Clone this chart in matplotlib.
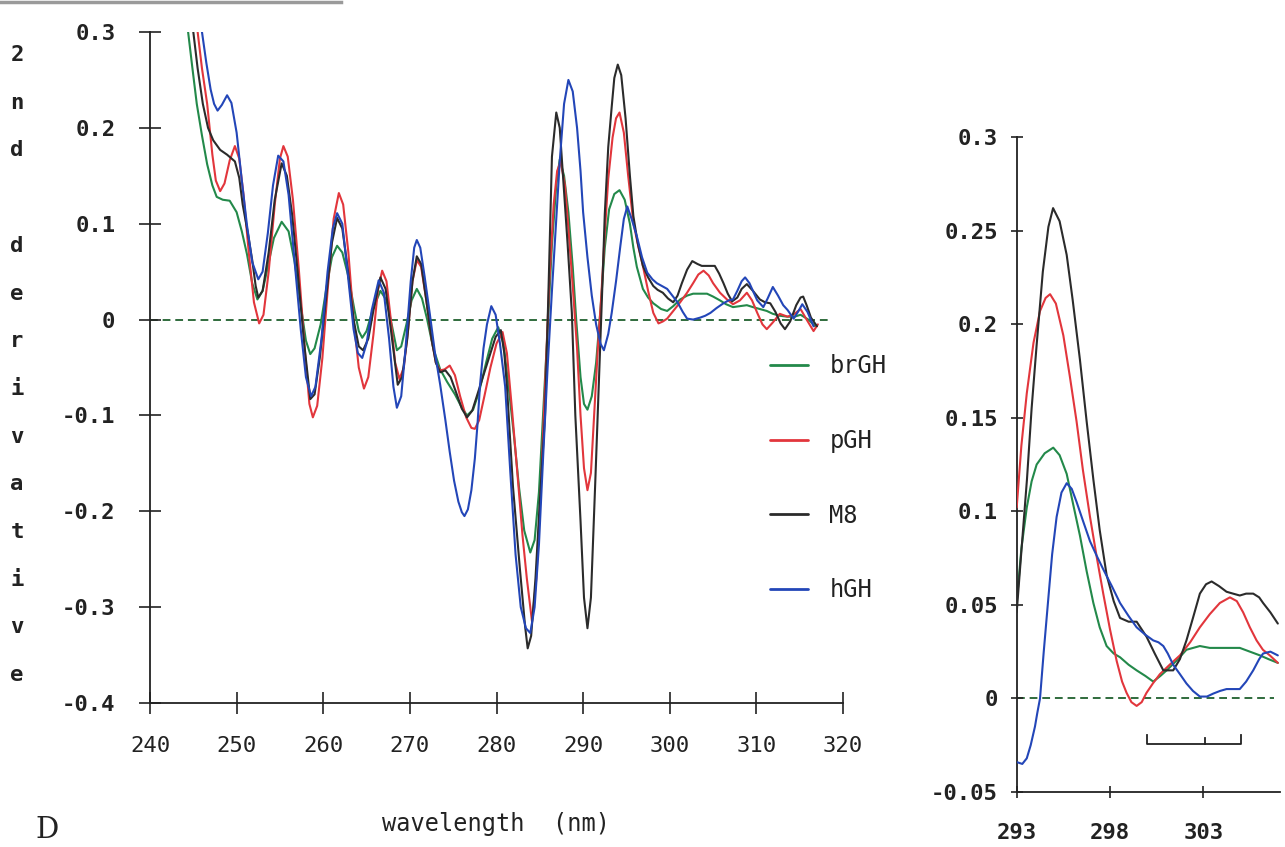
import matplotlib
matplotlib.use("Agg")
import matplotlib.pyplot as plt
from matplotlib.lines import Line2D

# ── data (2nd derivative spectra) ──
labels = ["brGH", "pGH", "M8", "hGH"]
colors = ["#23894a", "#e2363c", "#2b2b2b", "#2346b8"]

wl_brgh = [244.4, 244.9, 245.4, 246.0, 246.6, 247.2, 247.7, 248.4, 249.2, 250.0, 250.6, 251.2,
           251.8, 252.4, 253.0, 253.6, 254.3, 255.2, 256.0, 256.7, 257.4, 258.0, 258.5, 259.0,
           259.7, 260.4, 261.0, 261.6, 262.2, 262.9, 263.6, 264.1, 264.5, 265.0, 265.7, 266.6,
           267.3, 267.9, 268.5, 269.0, 269.6, 270.2, 270.8, 271.4, 272.0, 272.7, 273.5, 274.3,
           275.2, 276.0, 276.6, 277.3, 278.0, 278.8, 279.5, 280.2, 280.8, 281.4, 282.0, 282.6,
           283.2, 283.9, 284.4, 284.9, 285.4, 285.9, 286.4, 286.9, 287.3, 287.8, 288.3, 288.8,
           289.2, 289.7, 290.1, 290.5, 291.0, 291.5, 292.0, 292.5, 293.0, 293.6, 294.2, 294.8,
           295.4, 295.8, 296.2, 296.9, 297.5, 298.1, 299.0, 299.7, 300.4, 301.2, 302.0, 302.7,
           303.5, 304.3, 305.0, 305.8, 306.5, 307.3, 308.1, 308.9, 309.6, 310.4, 311.2, 311.9,
           312.7, 313.6, 314.4, 315.1, 316.0, 316.8]
d2_brgh = [0.300, 0.262, 0.225, 0.192, 0.162, 0.140, 0.128, 0.125, 0.124, 0.112, 0.092, 0.068,
           0.038, 0.021, 0.030, 0.055, 0.085, 0.102, 0.092, 0.060, 0.015, -0.022, -0.036, -0.030,
           -0.005, 0.035, 0.065, 0.077, 0.070, 0.045, 0.010, -0.012, -0.019, -0.012, 0.010, 0.030,
           0.020, -0.005, -0.032, -0.028, -0.005, 0.020, 0.032, 0.022, 0.000, -0.030, -0.052, -0.065,
           -0.078, -0.092, -0.100, -0.094, -0.075, -0.045, -0.020, -0.008, -0.025, -0.070, -0.120, -0.175,
           -0.220, -0.243, -0.230, -0.180, -0.095, -0.010, 0.078, 0.140, 0.167, 0.150, 0.112, 0.055,
           0.000, -0.060, -0.088, -0.094, -0.080, -0.045, 0.010, 0.075, 0.115, 0.131, 0.135, 0.125,
           0.100, 0.075, 0.055, 0.032, 0.023, 0.017, 0.011, 0.009, 0.014, 0.021, 0.025, 0.027,
           0.027, 0.027, 0.024, 0.020, 0.016, 0.013, 0.014, 0.015, 0.013, 0.011, 0.009, 0.006,
           0.004, 0.003, 0.003, 0.005, 0.000, -0.007]

wl_pgh = [245.5, 246.0, 246.6, 247.2, 247.6, 248.1, 248.6, 249.2, 249.8, 250.3, 250.8, 251.4,
          252.0, 252.6, 253.1, 253.7, 254.4, 255.0, 255.4, 255.9, 256.5, 257.2, 257.9, 258.4,
          258.8, 259.3, 259.9, 260.5, 261.2, 261.8, 262.3, 262.9, 263.5, 264.1, 264.7, 265.2,
          265.8, 266.3, 266.8, 267.3, 267.8, 268.3, 268.8, 269.3, 269.8, 270.3, 270.8, 271.3,
          271.9, 272.5, 273.0, 273.5, 274.0, 274.6, 275.2, 275.8, 276.5, 277.1, 277.5, 278.0,
          278.6, 279.3, 280.0, 280.7, 281.2, 281.8, 282.5, 283.0, 283.5, 284.1, 284.6, 285.1,
          285.6, 286.1, 286.6, 287.0, 287.4, 287.9, 288.3, 288.8, 289.3, 289.7, 290.1, 290.5,
          290.9, 291.3, 291.7, 292.1, 292.5, 292.9, 293.4, 293.8, 294.2, 294.7, 295.2, 295.8,
          296.4, 296.9, 297.5, 298.1, 298.7, 299.2, 299.7, 300.5, 301.2, 302.0, 302.7, 303.3,
          303.9, 304.5, 305.0, 305.8, 306.6, 307.3, 308.1, 308.9, 309.5, 310.1, 310.7, 311.2,
          311.9, 312.7, 313.6, 314.4, 315.1, 315.8, 316.6, 317.1]
d2_pgh = [0.300, 0.262, 0.225, 0.172, 0.145, 0.134, 0.142, 0.166, 0.181, 0.168, 0.130, 0.070,
          0.018, -0.004, 0.005, 0.050, 0.120, 0.168, 0.181, 0.170, 0.125, 0.050, -0.035, -0.088,
          -0.102, -0.090, -0.040, 0.030, 0.105, 0.132, 0.120, 0.070, 0.000, -0.050, -0.072, -0.060,
          -0.015, 0.030, 0.051, 0.040, 0.000, -0.045, -0.062, -0.050, -0.010, 0.040, 0.062, 0.055,
          0.020, -0.020, -0.045, -0.053, -0.052, -0.048, -0.058, -0.080, -0.102, -0.113, -0.114, -0.105,
          -0.080, -0.050, -0.025, -0.013, -0.035, -0.095, -0.170, -0.225, -0.270, -0.315, -0.270, -0.180,
          -0.070, 0.040, 0.120, 0.155, 0.165, 0.140, 0.095, 0.035, -0.030, -0.100, -0.155, -0.178,
          -0.160, -0.095, -0.030, 0.025, 0.090, 0.147, 0.190, 0.210, 0.216, 0.195, 0.150, 0.101,
          0.075, 0.056, 0.030, 0.007, -0.004, -0.002, 0.001, 0.010, 0.018, 0.028, 0.038, 0.047,
          0.051, 0.046, 0.038, 0.028, 0.021, 0.016, 0.020, 0.028, 0.020, 0.007, -0.005, -0.010,
          -0.003, 0.006, 0.003, 0.006, 0.011, 0.000, -0.012, -0.005]

wl_m8 = [245.0, 245.5, 246.1, 246.7, 247.3, 248.1, 248.9, 249.8, 250.3, 250.7, 251.3, 251.8,
         252.2, 252.5, 253.0, 253.7, 254.4, 255.2, 255.8, 256.4, 257.1, 257.8, 258.5, 259.0,
         259.6, 260.3, 261.0, 261.6, 262.2, 262.8, 263.5, 264.1, 264.6, 265.2, 265.8, 266.6,
         267.2, 267.8, 268.6, 269.1, 269.7, 270.3, 270.8, 271.3, 271.9, 272.5, 273.0, 273.5,
         274.1, 274.7, 275.3, 276.0, 276.6, 277.2, 277.9, 278.6, 279.3, 279.9, 280.5, 280.9,
         281.2, 281.9, 282.7, 283.3, 283.6, 284.0, 284.5, 285.0, 285.6, 286.0, 286.4, 286.9,
         287.3, 287.7, 288.2, 288.7, 289.1, 289.7, 290.1, 290.5, 290.9, 291.4, 291.8, 292.2,
         292.5, 292.9, 293.3, 293.6, 294.0, 294.4, 294.9, 295.4, 295.8, 296.3, 296.9, 297.5,
         298.1, 298.6, 299.2, 299.8, 300.4, 300.9, 301.4, 302.0, 302.6, 303.2, 303.7, 304.5,
         305.2, 305.7, 306.2, 306.7, 307.2, 307.8, 308.3, 308.9, 309.6, 310.4, 311.0, 311.6,
         312.2, 312.8, 313.3, 313.9, 314.6, 315.1, 315.4, 315.8, 316.3, 317.0]
d2_m8 = [0.300, 0.262, 0.225, 0.200, 0.187, 0.177, 0.172, 0.165, 0.148, 0.120, 0.090, 0.062,
         0.035, 0.023, 0.030, 0.070, 0.125, 0.163, 0.150, 0.110, 0.045, -0.025, -0.083, -0.078,
         -0.040, 0.020, 0.080, 0.106, 0.095, 0.055, 0.000, -0.028, -0.032, -0.020, 0.010, 0.044,
         0.032, -0.010, -0.068, -0.060, -0.020, 0.040, 0.066, 0.058, 0.020, -0.020, -0.045, -0.055,
         -0.053, -0.060, -0.075, -0.093, -0.102, -0.095, -0.075, -0.055, -0.035, -0.018, -0.011, -0.035,
         -0.069, -0.174, -0.260, -0.320, -0.343, -0.330, -0.270, -0.190, -0.100, 0.030, 0.170, 0.216,
         0.200, 0.147, 0.080, 0.007, -0.100, -0.210, -0.290, -0.322, -0.290, -0.170, -0.070, 0.030,
         0.110, 0.180, 0.222, 0.252, 0.266, 0.255, 0.210, 0.150, 0.108, 0.080, 0.056, 0.044,
         0.035, 0.031, 0.028, 0.022, 0.018, 0.025, 0.038, 0.052, 0.061, 0.058, 0.056, 0.056,
         0.056, 0.048, 0.038, 0.027, 0.019, 0.023, 0.032, 0.037, 0.030, 0.021, 0.018, 0.017,
         0.008, -0.004, -0.010, -0.002, 0.015, 0.023, 0.024, 0.015, 0.002, -0.007]

wl_hgh = [246.0, 246.5, 247.0, 247.4, 247.8, 248.3, 248.9, 249.4, 250.0, 250.6, 251.2, 251.8,
          252.5, 253.0, 253.6, 254.2, 254.8, 255.4, 256.0, 256.7, 257.4, 258.0, 258.6, 259.1,
          259.8, 260.5, 261.1, 261.6, 262.2, 262.8, 263.5, 264.0, 264.5, 265.0, 265.6, 266.4,
          267.0, 267.6, 268.1, 268.5, 269.0, 269.5, 270.1, 270.5, 270.8, 271.2, 271.7, 272.3,
          272.9, 273.5, 274.1, 274.6, 275.1, 275.6, 276.0, 276.3, 276.7, 277.1, 277.5, 277.8,
          278.1, 278.5, 278.9, 279.4, 279.9, 280.4, 281.0, 281.6, 282.2, 282.8, 283.4, 283.9,
          284.4, 284.9, 285.4, 285.9, 286.4, 286.8, 287.3, 287.8, 288.3, 288.8, 289.3, 289.7,
          290.0, 290.5, 291.0, 291.5, 292.0, 292.4, 292.9, 293.3, 293.8, 294.3, 294.7, 295.1,
          295.6, 296.2, 296.8, 297.4, 298.0, 298.5, 299.1, 299.7, 300.3, 300.9, 301.5, 302.0,
          302.7, 303.5, 304.1, 304.7, 305.4, 306.2, 306.8, 307.3, 307.8, 308.3, 308.7, 309.2,
          309.7, 310.1, 310.8, 311.3, 311.9, 312.5, 313.1, 313.6, 314.3, 314.8, 315.3, 315.9,
          316.6]
d2_hgh = [0.300, 0.268, 0.240, 0.225, 0.218, 0.224, 0.234, 0.226, 0.195, 0.145, 0.098, 0.060,
          0.042, 0.050, 0.090, 0.140, 0.171, 0.165, 0.130, 0.060, -0.010, -0.060, -0.080, -0.070,
          -0.020, 0.050, 0.095, 0.111, 0.100, 0.050, -0.010, -0.035, -0.040, -0.025, 0.010, 0.041,
          0.028, -0.020, -0.070, -0.092, -0.080, -0.030, 0.040, 0.075, 0.083, 0.075, 0.045, 0.006,
          -0.035, -0.068, -0.105, -0.138, -0.168, -0.190, -0.201, -0.205, -0.198, -0.178, -0.145, -0.110,
          -0.068, -0.030, -0.005, 0.014, 0.005, -0.025, -0.070, -0.160, -0.245, -0.300, -0.322, -0.327,
          -0.300, -0.235, -0.140, -0.050, 0.030, 0.090, 0.165, 0.225, 0.250, 0.238, 0.200, 0.155,
          0.112, 0.065, 0.025, -0.005, -0.025, -0.032, -0.015, 0.007, 0.040, 0.077, 0.105, 0.118,
          0.105, 0.087, 0.065, 0.049, 0.042, 0.038, 0.035, 0.032, 0.025, 0.018, 0.008, 0.001,
          0.000, 0.002, 0.004, 0.007, 0.012, 0.017, 0.020, 0.021, 0.030, 0.040, 0.044, 0.038,
          0.028, 0.020, 0.013, 0.022, 0.034, 0.025, 0.015, 0.010, 0.001, 0.008, 0.016, 0.008,
          -0.007]

# expanded view 293-307 nm (right panel)
ins_wl_brgh = [293.0, 293.25, 293.54, 293.8, 294.07, 294.5, 294.96, 295.3, 295.68, 296.0, 296.39,
               296.75, 297.11, 297.45, 297.82, 298.2, 298.54, 299.0, 299.43, 299.9, 300.32, 300.7,
               301.04, 301.55, 302.1, 302.82, 303.35, 303.89, 304.43, 304.96, 305.5, 306.04, 306.5, 307.0]
ins_d2_brgh = [0.051, 0.080, 0.102, 0.116, 0.125, 0.131, 0.134, 0.130, 0.120, 0.105, 0.087,
               0.068, 0.051, 0.038, 0.028, 0.024, 0.022, 0.018, 0.015, 0.012, 0.009, 0.012,
               0.015, 0.020, 0.026, 0.028, 0.027, 0.027, 0.027, 0.027, 0.025, 0.023, 0.021, 0.019]

ins_wl_pgh = [293.0, 293.25, 293.54, 293.9, 294.25, 294.55, 294.79, 295.1, 295.5, 295.85, 296.21,
              296.55, 296.93, 297.3, 297.64, 298.0, 298.36, 298.65, 298.89, 299.15, 299.43, 299.7,
              299.96, 300.3, 300.68, 301.2, 301.75, 302.3, 302.82, 303.35, 303.89, 304.43, 304.8,
              305.14, 305.5, 305.86, 306.2, 306.57, 307.0]
ins_d2_pgh = [0.102, 0.135, 0.163, 0.190, 0.207, 0.214, 0.216, 0.211, 0.194, 0.172, 0.148,
              0.122, 0.097, 0.075, 0.056, 0.037, 0.020, 0.009, 0.003, -0.002, -0.004, -0.002,
              0.003, 0.008, 0.013, 0.018, 0.023, 0.030, 0.038, 0.045, 0.051, 0.054, 0.052,
              0.046, 0.038, 0.031, 0.026, 0.023, 0.019]

ins_wl_m8 = [293.0, 293.3, 293.55, 293.8, 294.07, 294.4, 294.7, 294.95, 295.3, 295.68, 296.0,
             296.39, 296.75, 297.11, 297.45, 297.82, 298.2, 298.54, 299.0, 299.43, 299.96, 300.4,
             300.86, 301.39, 301.75, 302.1, 302.45, 302.82, 303.15, 303.45, 303.85, 304.25, 304.6,
             304.96, 305.3, 305.68, 306.0, 306.21, 306.6, 307.0]
ins_d2_m8 = [0.046, 0.085, 0.117, 0.155, 0.189, 0.228, 0.252, 0.262, 0.255, 0.237, 0.213,
             0.181, 0.148, 0.117, 0.090, 0.066, 0.052, 0.043, 0.041, 0.041, 0.033, 0.024,
             0.015, 0.015, 0.021, 0.031, 0.043, 0.056, 0.061, 0.0625, 0.060, 0.057, 0.056,
             0.055, 0.056, 0.056, 0.054, 0.051, 0.046, 0.040]

ins_wl_hgh = [293.0, 293.3, 293.54, 293.75, 293.98, 294.1, 294.25, 294.45, 294.7, 294.9, 295.14,
              295.4, 295.68, 295.95, 296.21, 296.55, 296.93, 297.3, 297.64, 298.1, 298.54, 299.0,
              299.43, 299.9, 300.32, 300.6, 300.86, 301.1, 301.39, 301.75, 302.1, 302.45, 302.82,
              303.2, 303.54, 303.9, 304.25, 304.6, 304.96, 305.3, 305.68, 306.0, 306.21, 306.6, 307.0]
ins_d2_hgh = [-0.034, -0.035, -0.032, -0.025, -0.015, -0.008, 0.000, 0.025, 0.054, 0.077, 0.097,
              0.110, 0.115, 0.112, 0.105, 0.095, 0.084, 0.076, 0.069, 0.060, 0.051, 0.044,
              0.038, 0.034, 0.031, 0.030, 0.028, 0.024, 0.018, 0.013, 0.008, 0.004, 0.001,
              0.001, 0.0026, 0.004, 0.005, 0.005, 0.005, 0.009, 0.015, 0.021, 0.024, 0.025, 0.023]

main_xticks = [240, 250, 260, 270, 280, 290, 300, 310, 320]
main_yticks = [-0.4, -0.3, -0.2, -0.1, 0, 0.1, 0.2, 0.3]
main_ylabels = ["-0.4", "-0.3", "-0.2", "-0.1", "0", "0.1", "0.2", "0.3"]
ins_xticks = [293, 298, 303]
ins_yticks = [-0.05, 0, 0.05, 0.1, 0.15, 0.2, 0.25, 0.3]
ins_ylabels = ["-0.05", "0", "0.05", "0.1", "0.15", "0.2", "0.25", "0.3"]

# ── styling ──
INK = "#222222"
ZERO = "#2f6b3c"
plt.rcParams["font.family"] = ["DejaVu Sans Mono", "DejaVu Sans"]

W, H = 1285, 847
fig = plt.figure(figsize=(W / 100, H / 100), dpi=100)
fig.patch.set_facecolor("white")

main_series = [(wl_brgh, d2_brgh), (wl_pgh, d2_pgh), (wl_m8, d2_m8), (wl_hgh, d2_hgh)]
ins_series = [(ins_wl_brgh, ins_d2_brgh), (ins_wl_pgh, ins_d2_pgh),
              (ins_wl_m8, ins_d2_m8), (ins_wl_hgh, ins_d2_hgh)]
draw_order = [0, 1, 3, 2]
LW = 1.5


def style_axes(a, tick_len, ylab_pad, xlab_pad):
    for s in ("top", "right"):
        a.spines[s].set_visible(False)
    for s in ("left", "bottom"):
        a.spines[s].set_linewidth(1.3)
        a.spines[s].set_color(INK)
    a.tick_params(direction="inout", length=tick_len, width=1.2, colors=INK)
    a.tick_params(axis="y", pad=ylab_pad, labelsize=16)
    a.tick_params(axis="x", pad=xlab_pad, labelsize=16)
    for t in a.get_yticklabels():
        t.set_fontweight("bold")
    a.patch.set_alpha(0)


# ── main panel ──
ax = fig.add_axes([150 / W, 1 - 703 / H, 693 / W, 671 / H])
ax.set_xlim(240, 320)
ax.set_ylim(-0.4, 0.3)
ax.hlines(0, 240, 318.5, colors=ZERO, linestyles=(0, (4, 2.5)), lw=1.4, zorder=1)
lines = {}
for i in draw_order:
    x, y = main_series[i]
    lines[i], = ax.plot(x, y, color=colors[i], lw=LW, label=labels[i], zorder=2 + i,
                        solid_joinstyle="round", solid_capstyle="round")
ax.set_xticks(main_xticks)
ax.set_xticklabels([str(v) for v in main_xticks])
ax.set_yticks(main_yticks)
ax.set_yticklabels(main_ylabels)
style_axes(ax, 16, 17, 16)
ax.set_xlabel("wavelength  (nm)", fontsize=17, labelpad=40, color=INK)

leg = ax.legend([lines[i] for i in range(4)], labels, loc="center left",
                bbox_to_anchor=(0.878, 0.335), frameon=False, fontsize=17,
                handlelength=1.6, handletextpad=0.9, labelspacing=2.15, borderpad=0)
for h in leg.get_lines():
    h.set_linewidth(2.0)
for t in leg.get_texts():
    t.set_color(INK)

# stacked y-axis title
ytitle = "2nd derivative"
for k, ch in enumerate(ytitle):
    fig.text(17 / W, 1 - (55 + k * 47.7) / H, ch, ha="center", va="center",
             fontsize=16, fontweight="bold", color=INK)

fig.text(47 / W, 1 - 830 / H, "D", ha="center", va="center", fontsize=21,
         family="DejaVu Serif", color=INK)

# ── expanded panel ──
ins = fig.add_axes([1016.7 / W, 1 - 792 / H, 263 / W, 655 / H])
ins.set_xlim(293, 307.1)
ins.set_ylim(-0.05, 0.3)
ins.hlines(0, 293, 306.8, colors=ZERO, linestyles=(0, (4, 2.5)), lw=1.4, zorder=1)
for i in draw_order:
    x, y = ins_series[i]
    ins.plot(x, y, color=colors[i], lw=LW, zorder=2 + i,
             solid_joinstyle="round", solid_capstyle="round")
ins.set_xticks(ins_xticks)
ins.set_xticklabels([str(v) for v in ins_xticks])
ins.set_yticks(ins_yticks)
ins.set_yticklabels(ins_ylabels)
style_axes(ins, 9, 9, 18)
for t in ins.get_xticklabels():
    t.set_fontweight("bold")

# scale bracket under the curves
ins.plot([300.0, 300.0, 305.05, 305.05], [-0.0195, -0.0245, -0.0245, -0.0195],
         color=INK, lw=1.3)
ins.plot([303.1, 303.1], [-0.0245, -0.021], color=INK, lw=1.3)

# scan edge at the top left
fig.add_artist(Line2D([0, 0.265], [0.998, 0.998], transform=fig.transFigure,
                      color="#9a9a9a", lw=2.5))

fig.savefig("out.png", dpi=100, facecolor="white")
